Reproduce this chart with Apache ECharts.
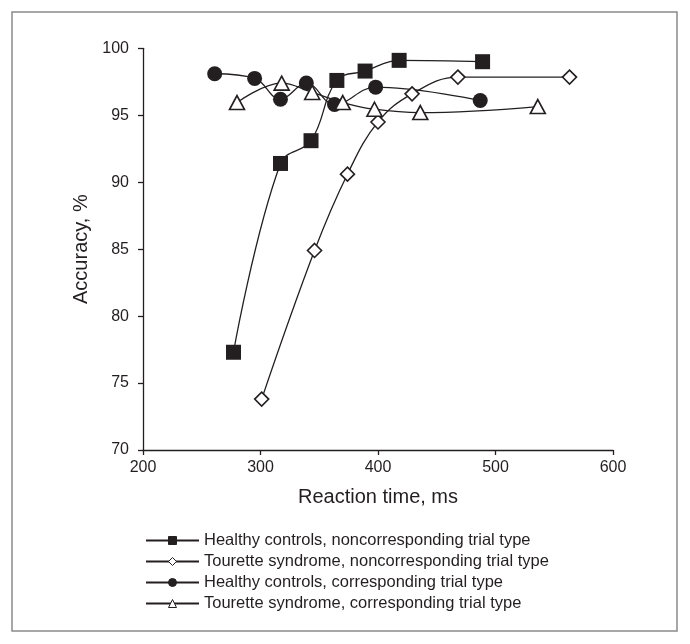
<!DOCTYPE html>
<html>
<head>
<meta charset="utf-8">
<script src="https://cdn.jsdelivr.net/npm/echarts@6/dist/echarts.min.js"></script>
<style>
html,body{margin:0;padding:0;background:#fff;}
#chart{width:690px;height:644px;}
</style>
</head>
<body>
<div id="chart"></div>
<script>
// Data (x = reaction time ms, y = accuracy %)
const seriesNames = [
  'Healthy controls, noncorresponding trial type',
  'Tourette syndrome, noncorresponding trial type',
  'Healthy controls, corresponding trial type',
  'Tourette syndrome, corresponding trial type'
];
const hcNonRT  = [277, 317, 343, 365, 389, 418, 489];
const hcNonAcc = [77.3, 91.4, 93.1, 97.6, 98.3, 99.1, 99.0];
const tsNonRT  = [301, 346, 374, 400, 429, 468, 563];
const tsNonAcc = [73.8, 84.9, 90.6, 94.5, 96.6, 97.85, 97.85];
const hcCorRT  = [261, 295, 317, 339, 363, 398, 487];
const hcCorAcc = [98.1, 97.75, 96.2, 97.4, 95.8, 97.1, 96.1];
const tsCorRT  = [280, 318, 344, 370, 397, 436, 536];
const tsCorAcc = [95.95, 97.4, 96.7, 95.95, 95.45, 95.2, 95.65];
const xTicks = [200, 300, 400, 500, 600];
const yTicks = [70, 75, 80, 85, 90, 95, 100];

const pair = (xs, ys) => xs.map((x, i) => [x, ys[i]]);
const INK = '#231f20';
const FONT = '"Liberation Sans", Arial, sans-serif';

function mk(name, xs, ys, symbol, size, filled) {
  return {
    name: name,
    type: 'line',
    data: pair(xs, ys),
    smooth: 0.4,
    symbol: symbol,
    symbolSize: size,
    showAllSymbol: true,
    lineStyle: { color: INK, width: 1.3 },
    itemStyle: {
      color: filled ? INK : '#ffffff',
      borderColor: INK,
      borderWidth: filled ? 0 : 1.6,
      opacity: 1
    },
    emphasis: { disabled: true },
    animation: false
  };
}

const chart = echarts.init(document.getElementById('chart'), null, { renderer: 'canvas' });
chart.setOption({
  backgroundColor: '#ffffff',
  animation: false,
  graphic: [{
    type: 'rect',
    shape: { x: 12, y: 12, width: 665, height: 619 },
    style: { fill: 'none', stroke: '#8a8a8a', lineWidth: 1.5 },
    silent: true
  }],
  grid: { left: 143, top: 48.3, right: 77, bottom: 194 },
  xAxis: {
    type: 'value',
    min: xTicks[0], max: xTicks[xTicks.length - 1], interval: 100,
    name: 'Reaction time, ms',
    nameLocation: 'middle',
    nameGap: 37,
    nameTextStyle: { fontSize: 20, color: INK, fontFamily: FONT },
    axisLine: { show: true, lineStyle: { color: INK, width: 1.3 } },
    axisTick: { show: true, length: 5, inside: false, lineStyle: { color: INK, width: 1.3 } },
    axisLabel: { fontSize: 16, color: INK, fontFamily: FONT, margin: 10 },
    splitLine: { show: false }
  },
  yAxis: {
    type: 'value',
    min: yTicks[0], max: yTicks[yTicks.length - 1], interval: 5,
    name: 'Accuracy, %',
    nameLocation: 'middle',
    nameGap: 50,
    nameRotate: 90,
    nameTextStyle: { fontSize: 20, color: INK, fontFamily: FONT },
    axisLine: { show: true, lineStyle: { color: INK, width: 1.3 } },
    axisTick: { show: true, length: 5, inside: false, lineStyle: { color: INK, width: 1.3 } },
    axisLabel: { fontSize: 16, color: INK, fontFamily: FONT, margin: 14 },
    splitLine: { show: false }
  },
  legend: {
    orient: 'vertical',
    left: 140,
    top: 527,
    itemWidth: 53,
    itemHeight: 10,
    itemGap: 4,
    selectedMode: false,
    textStyle: { fontSize: 16.5, color: INK, fontFamily: FONT },
    itemStyle: { borderWidth: 1 },
    data: seriesNames
  },
  series: [
    mk(seriesNames[0], hcNonRT, hcNonAcc, 'rect', 15, true),
    mk(seriesNames[1], tsNonRT, tsNonAcc, 'diamond', 14, false),
    mk(seriesNames[2], hcCorRT, hcCorAcc, 'circle', 15, true),
    mk(seriesNames[3], tsCorRT, tsCorAcc, 'triangle', [15, 14], false)
  ]
});
</script>
</body>
</html>
